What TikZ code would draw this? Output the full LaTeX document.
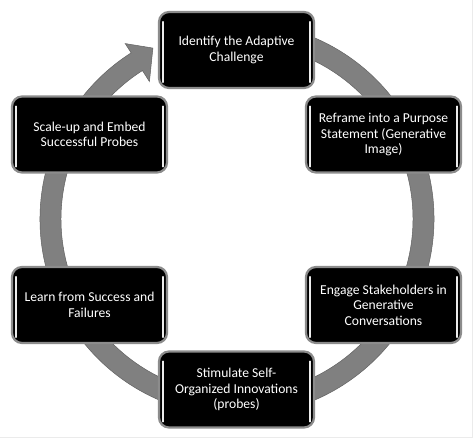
\documentclass[tikz,border=0pt]{standalone}
\usepackage{fontspec}
\setmainfont{Carlito}
\begin{document}
\begin{tikzpicture}[x=1pt,y=1pt,
  stagebox/.style={draw=black!75, line width=0.6pt, fill=black, rounded corners=10pt,
    minimum width=155pt, minimum height=76pt, inner sep=0pt, align=center,
    text=white, font=\fontsize{13.6}{15.6}\selectfont,
    postaction={draw=black!45, line width=2.2pt, rounded corners=9pt}},
  hilite/.style={draw=white!85!gray, line width=1.3pt, line cap=round},
  ringstyle/.style={fill=black!50, draw=black!62, line width=0.5pt}]
\useasboundingbox (0,0) rectangle (474,441);
\fill[white] (0,0) rectangle (474,441);
\draw[black!8, line width=1pt] (472.5,441) -- (472.5,3) -- (0,3);
% ring with arrowhead
\coordinate (c) at (237,222);
\path[ringstyle] ([shift={(80:197)}]c) arc[start angle=80, end angle=-237.5, radius=197]
  -- ([shift={(-237.5:208)}]c) -- ([shift={(-243.8:190.5)}]c)
  -- ([shift={(-237.5:163)}]c) -- ([shift={(-237.5:176)}]c)
  arc[start angle=-237.5, end angle=80, radius=176] -- cycle;
% boxes
\node[stagebox] (top) at (236.5,391) {Identify the Adaptive\\Challenge};
\node[stagebox] (rt) at (383.5,306.5) {Reframe into a Purpose\\Statement (Generative\\Image)};
\node[stagebox] (rb) at (383.5,136) {Engage Stakeholders in\\Generative\\Conversations};
\node[stagebox] (bot) at (236.5,51.5) {Stimulate Self-\\Organized Innovations\\(probes)};
\node[stagebox] (lb) at (89.5,136) {Learn from Success and\\Failures};
\node[stagebox] (lt) at (89.5,306.5) {Scale-up and Embed\\Successful Probes};
\foreach \n in {top,rt,rb,bot,lb,lt}{
  \draw[hilite] ([shift={(4.2pt,-10pt)}]\n.north west) -- ([shift={(4.2pt,6pt)}]\n.south west);
  \draw[hilite] ([shift={(-4.2pt,-10pt)}]\n.north east) -- ([shift={(-4.2pt,6pt)}]\n.south east);
}
\end{tikzpicture}
\end{document}
